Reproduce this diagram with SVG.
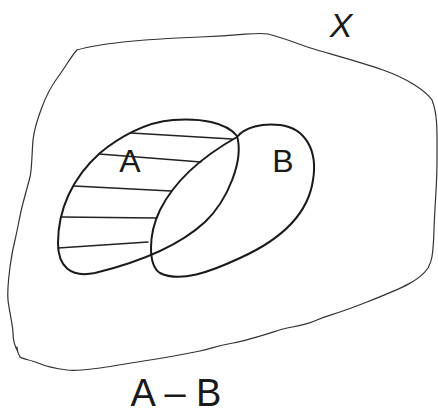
<svg xmlns="http://www.w3.org/2000/svg" width="438" height="415" viewBox="0 0 438 415">
<style>
.outer{fill:none;stroke:#333;stroke-width:1.2;stroke-linejoin:round;stroke-linecap:round}
.set{fill:none;stroke:#1a1a1a;stroke-width:2;stroke-linejoin:round}
.hatch{stroke:#222;stroke-width:1.6;stroke-linecap:round}
.lbl{font-family:"Liberation Sans",Arial,sans-serif;fill:#1a1a1a;text-anchor:middle}
</style>
<rect width="438" height="415" fill="#fff"/>
<g id="universe">
<path class="outer" d="M77,50 C100,43 150,39 200,37 S255,32 268,34 C285,38 300,45 317,50 S360,62 383,70 S425,90 432,100 C438,115 437,133 437,160 S435,200 434,230 S431,262 428,268 C420,280 405,287 367,302 S330,314 317,320 S290,327 283,329 S250,340 233,343 S210,349 200,351 S170,357 150,360 S115,366 100,368 S75,371 67,370 S45,366 38,363 S22,359 20,357 C18,354 17,350 17,347 M18,352 C14,345 13,340 13,333 S9,310 8,300 S9,275 10,267 S13,248 15,240 S20,215 22,207 S28,185 30,177 S32,150 33,140 S39,115 42,107 S52,85 58,77 S72,55 77,50"/>
<text class="lbl" x="341" y="37" font-size="34" font-style="italic">X</text>
</g>
<g id="setA">
<path class="set" d="M173,120 C200,118 226,122 237,136 C244,160 228,200 205,222 C180,245 140,262 95,273 C70,278 58,266 58,243 C58,210 72,178 100,153 C118,138 145,122 173,120 Z"/>
<g id="hatching">
<line class="hatch" x1="131" y1="133" x2="232" y2="139"/>
<line class="hatch" x1="99" y1="154" x2="201" y2="162"/>
<line class="hatch" x1="74" y1="186" x2="171" y2="191"/>
<line class="hatch" x1="61" y1="217" x2="156" y2="218"/>
<line class="hatch" x1="58" y1="248" x2="148" y2="242"/>
</g>
<text class="lbl" x="130" y="172" font-size="32">A</text>
</g>
<g id="setB">
<path class="set" d="M237,137 C245,127 262,123 280,125 C305,128 318,150 313,180 C308,215 280,240 240,258 C210,272 180,283 160,273 C148,265 148,235 160,210 C175,180 205,155 237,137 Z"/>
<text class="lbl" x="283" y="172" font-size="32">B</text>
</g>
<g id="caption">
<text class="lbl" x="176" y="406" font-size="38">A – B</text>
</g>
</svg>
